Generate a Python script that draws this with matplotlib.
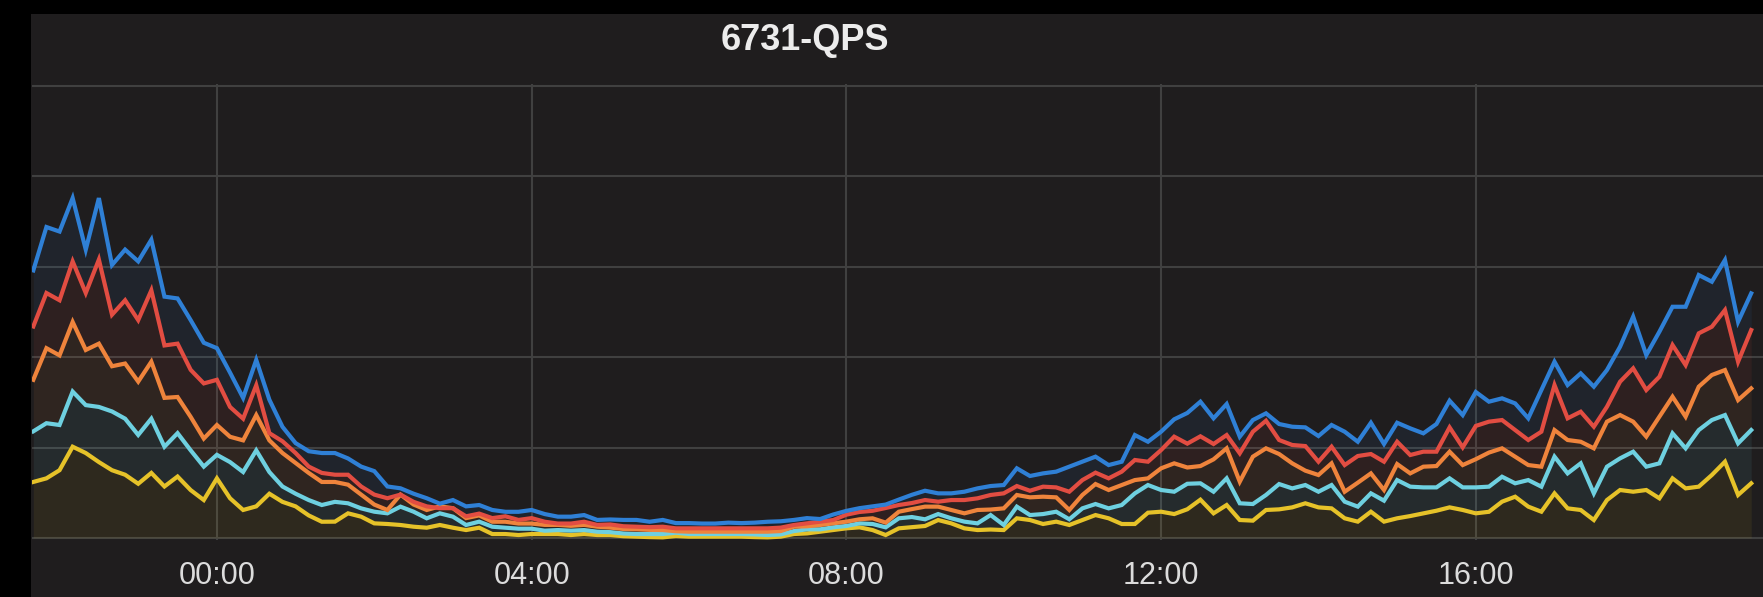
"""6731-QPS: stacked Grafana-style time series on a dark panel."""

import matplotlib

matplotlib.use("Agg")

import matplotlib.dates as mdates
import matplotlib.pyplot as plt
import pandas as pd
from matplotlib.patches import Rectangle

TITLE = "6731-QPS"
TICK_HOURS = [0, 4, 8, 12, 16]

# 10-minute samples, 21:40 -> 19:30 next day (stack tops)
times = pd.date_range("2017-03-01 21:40", "2017-03-02 19:30", freq="10min")

blue = [
    2960, 3440, 3390, 3760, 3190, 3760, 3020, 3190, 3060, 3300, 2670, 2650, 2410, 2160,
    2100, 1830, 1550, 1970, 1530, 1230, 1050, 960, 940, 940, 880, 790, 740, 570,
    550, 490, 440, 380, 420, 350, 365, 310, 290, 290, 310, 265, 236, 236, 254, 200,
    205, 200, 200, 180, 200, 165, 165, 160, 160, 170, 165, 170, 180, 185, 200, 220,
    210, 260, 300, 330, 350, 370, 425, 478, 523, 494, 494, 512, 549, 575, 586, 771,
    686, 715, 734, 789, 844, 900, 807, 844, 1139, 1065, 1176, 1313, 1383, 1508, 1324, 1482,
    1121, 1305, 1379, 1261, 1231, 1224, 1128, 1250, 1176, 1065, 1275, 1040, 1275, 1213, 1158, 1261,
    1519, 1360, 1615, 1508, 1545, 1489, 1324, 1637, 1950, 1692, 1821, 1674, 1858, 2116, 2448, 2024,
    2282, 2558, 2558, 2909, 2835, 3075, 2392, 2706,
]
red = [
    2340, 2710, 2630, 3060, 2710, 3080, 2470, 2630, 2410, 2740, 2130, 2150, 1860, 1710,
    1750, 1450, 1320, 1690, 1160, 1070, 940, 790, 720, 700, 700, 570, 480, 440,
    480, 400, 350, 330, 330, 240, 270, 220, 240, 200, 220, 180, 160, 160, 180, 145,
    150, 130, 125, 120, 125, 107, 107, 107, 107, 107, 107, 107, 107, 115, 144, 162,
    181, 199, 258, 288, 301, 332, 365, 387, 420, 402, 420, 420, 439, 476, 494, 575,
    523, 568, 560, 512, 641, 723, 660, 734, 863, 844, 973, 1121, 1044, 1125, 1040, 1139,
    937, 1176, 1297, 1084, 1029, 1017, 844, 1010, 807, 907, 929, 844, 1065, 918, 955, 955,
    1224, 1003, 1240, 1287, 1305, 1194, 1084, 1176, 1692, 1324, 1397, 1231, 1452, 1729, 1877, 1637,
    1784, 2135, 1913, 2264, 2337, 2522, 1950, 2300,
]
orange = [
    1750, 2100, 2020, 2390, 2080, 2150, 1900, 1930, 1730, 1950, 1550, 1560, 1340, 1100,
    1250, 1120, 1080, 1360, 1080, 940, 830, 720, 620, 620, 590, 480, 370, 310,
    480, 370, 310, 350, 330, 220, 250, 180, 180, 160, 160, 145, 145, 135, 145, 125,
    115, 100, 96, 90, 88, 75, 70, 70, 70, 70, 70, 70, 70, 77, 125, 130,
    144, 162, 181, 207, 218, 170, 291, 320, 347, 347, 310, 273, 310, 315, 328, 476,
    450, 457, 450, 310, 476, 597, 531, 586, 641, 660, 771, 826, 780, 796, 870, 992,
    623, 900, 992, 929, 826, 745, 697, 826, 512, 612, 715, 531, 818, 715, 789, 796,
    955, 807, 872, 945, 992, 900, 807, 789, 1194, 1084, 1065, 992, 1287, 1360, 1287, 1121,
    1342, 1563, 1342, 1674, 1803, 1858, 1526, 1655,
]
cyan = [
    1180, 1270, 1250, 1620, 1470, 1450, 1400, 1320, 1140, 1320, 1010, 1160, 970, 790,
    920, 840, 730, 970, 730, 570, 490, 420, 365, 400, 384, 328, 291, 273,
    347, 291, 218, 273, 236, 144, 181, 125, 114, 103, 103, 81, 88, 81, 88, 70,
    65, 50, 44, 44, 44, 59, 44, 44, 44, 44, 44, 40, 33, 40, 77, 96,
    96, 118, 133, 162, 155, 118, 218, 232, 207, 265, 218, 181, 162, 254, 144, 347,
    254, 265, 291, 207, 328, 376, 328, 365, 494, 586, 531, 512, 600, 605, 512, 660,
    384, 376, 476, 597, 549, 586, 512, 586, 402, 347, 494, 413, 641, 568, 560, 560,
    660, 560, 560, 568, 678, 605, 641, 568, 900, 715, 826, 494, 789, 881, 955, 789,
    826, 1158, 992, 1194, 1305, 1360, 1047, 1194,
]
yellow = [
    620, 660, 750, 1010, 940, 840, 750, 700, 600, 720, 570, 680, 530, 420,
    660, 440, 310, 350, 490, 400, 350, 250, 180, 181, 273, 236, 162, 155,
    144, 125, 114, 144, 114, 88, 114, 44, 44, 33, 44, 44, 44, 33, 44, 33,
    33, 20, 15, 10, 7, 22, 15, 15, 15, 15, 15, 10, 7, 15, 44, 51,
    70, 88, 107, 118, 88, 33, 107, 120, 133, 199, 162, 107, 88, 94, 88, 218,
    199, 155, 181, 144, 199, 254, 218, 155, 155, 280, 291, 265, 318, 424, 273, 365,
    199, 192, 310, 317, 339, 384, 339, 328, 218, 181, 291, 181, 218, 243, 273, 302,
    339, 310, 273, 290, 402, 457, 347, 291, 494, 328, 310, 199, 420, 531, 512, 531,
    439, 660, 549, 568, 697, 844, 476, 605,
]

# bottom of the stack first; blue is drawn last, on top
series = [yellow, cyan, orange, red, blue]
colors = ["#e6c229", "#6ed0e0", "#ef843c", "#e24d42", "#2f80d6"]

W, H = 1763, 597
fig = plt.figure(figsize=(W / 100, H / 100), dpi=100, facecolor="black")
# panel background (the screenshot has a black strip on the left and top)
panel = Rectangle((31 / W, 0), 1, (H - 14) / H, transform=fig.transFigure,
                  facecolor="#1f1d1e", edgecolor="none")
panel.set_zorder(-10)
fig.add_artist(panel)

ax = fig.add_axes([32 / W, (H - 540) / H, 1 - 32 / W, 456 / H])
ax.set_zorder(5)
ax.patch.set_visible(False)

lower = [0] * len(times)
for vals, col in zip(series, colors):
    ax.fill_between(times, lower, vals, color=col, alpha=0.08, linewidth=0, zorder=2)
    lower = vals
for vals, col in zip(series, colors):
    ax.plot(times, vals, color=col, linewidth=3.0, solid_joinstyle="miter", zorder=3)

ax.set_xlim(times[0] - pd.Timedelta(minutes=1), times[-1] + pd.Timedelta(minutes=9))
ax.set_ylim(-22, 5022)
ax.set_yticks(range(0, 5001, 1000))
ax.xaxis.set_major_locator(mdates.HourLocator(byhour=TICK_HOURS))
ax.xaxis.set_major_formatter(mdates.DateFormatter("%H:%M"))

ax.grid(True, color="#404040", linewidth=1.5, zorder=1)
ax.tick_params(axis="y", left=False, labelleft=False)
ax.tick_params(axis="x", length=0, pad=15, labelsize=22, labelcolor="#dcdcdc")
for lab in ax.get_xticklabels():
    lab.set_fontfamily("Liberation Sans")
for sp in ax.spines.values():
    sp.set_visible(False)

fig.text(805 / W, 1 - 40 / H, TITLE, ha="center", va="center", fontsize=26,
         fontweight="bold", color="#ececec", family="Liberation Sans")

fig.savefig("out.png", dpi=100, facecolor=fig.get_facecolor())
